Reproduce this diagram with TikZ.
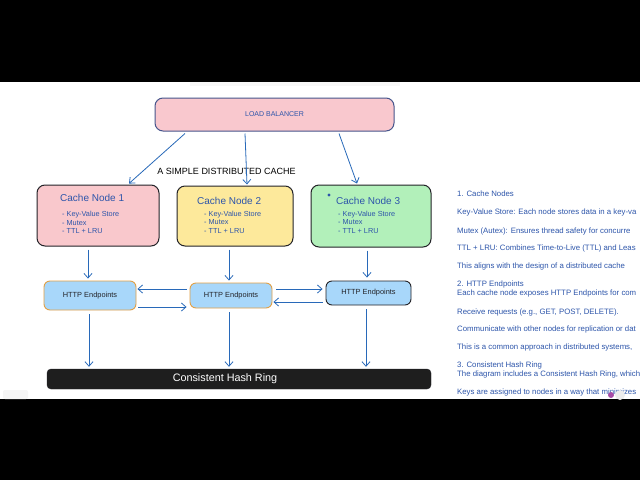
\documentclass[tikz,border=0pt]{standalone}
\usepackage{fontspec}
\setmainfont{Liberation Sans}
\usetikzlibrary{arrows.meta,calc}
\definecolor{arrowblue}{RGB}{40,105,185}
\definecolor{txtblue}{RGB}{45,85,170}
\definecolor{lbpink}{RGB}{249,200,206}
\definecolor{lbline}{RGB}{70,85,140}
\definecolor{cnpink}{RGB}{249,200,204}
\definecolor{cnyellow}{RGB}{253,233,155}
\definecolor{cngreen}{RGB}{178,240,186}
\definecolor{boxline}{RGB}{35,35,40}
\definecolor{httpfill}{RGB}{168,215,250}
\definecolor{httporange}{RGB}{225,160,70}
\definecolor{ringfill}{RGB}{30,30,30}
\begin{document}
\begin{tikzpicture}[x=1pt,y=-1pt,
  arr/.style={draw=arrowblue, line width=0.8pt, -{Straight Barb[length=4.5pt,width=8pt]}},
  bigbox/.style={draw=boxline, line width=1pt, rounded corners=8pt, inner sep=0pt},
  httpbox/.style={draw=httporange, line width=0.9pt, rounded corners=6pt, fill=httpfill, inner sep=0pt,
    font=\fontsize{7.4}{8}\selectfont, text=boxline},
  cntitle/.style={anchor=west, inner sep=0pt, text=txtblue, font=\fontsize{10}{12}\selectfont},
  cnitems/.style={anchor=west, inner sep=0pt, text=txtblue, align=left, font=\fontsize{7.3}{8.4}\selectfont},
  side/.style={anchor=west, inner sep=0pt, text=txtblue, font=\fontsize{7.8}{9}\selectfont}]
\useasboundingbox (0,0) rectangle (640,480);
\fill[white] (0,0) rectangle (640,480);
\fill[black] (0,0) rectangle (640,82);
\fill[black] (0,399) rectangle (640,480);
\fill[gray!6] (190,82) rectangle (400,86);
\fill[gray!8, rounded corners=2pt] (3,390) rectangle (28,399);

% load balancer
\node[bigbox, draw=lbline, fill=lbpink, minimum width=239pt, minimum height=33pt,
  text=txtblue, font=\fontsize{7}{8}\selectfont] (lb) at (274.5,114.5) {LOAD BALANCER};
\node[inner sep=0pt, font=\fontsize{9}{10}\selectfont, text=black] (title) at (226.5,171) {A SIMPLE DISTRIBUTED CACHE};

% cache nodes
\node[bigbox, fill=cnpink, minimum width=122pt, minimum height=61pt] (cn1) at (98,215.5) {};
\node[bigbox, fill=cnyellow, minimum width=116pt, minimum height=60pt] (cn2) at (235,216) {};
\node[bigbox, fill=cngreen, minimum width=120pt, minimum height=62pt] (cn3) at (371,216) {};
\node[cntitle] (cn1t) at (60,198) {Cache Node 1};
\node[cntitle] (cn2t) at (197,201) {Cache Node 2};
\node[cntitle] (cn3t) at (336,201) {Cache Node 3};
\node[circle, fill=txtblue, inner sep=0pt, minimum size=3.2pt] (dot) at (329,195) {};
\node[cnitems] (cn1i) at (62,222.5) {- Key-Value Store\\- Mutex\\- TTL + LRU};
\node[cnitems] (cn2i) at (204,222) {- Key-Value Store\\- Mutex\\- TTL + LRU};
\node[cnitems] (cn3i) at (338,222) {- Key-Value Store\\- Mutex\\- TTL + LRU};

% http endpoints
\node[httpbox, minimum width=92pt, minimum height=29pt] (h1) at (90,295.5) {HTTP Endpoints};
\node[httpbox, minimum width=82pt, minimum height=25pt] (h2) at (231,295.5) {HTTP Endpoints};
\node[httpbox, draw=boxline, minimum width=85pt, minimum height=24pt] (h3) at (368.5,293) {HTTP Endpoints};

% hash ring
\node[draw=boxline, fill=ringfill, rounded corners=4pt, inner sep=0pt, minimum width=384pt, minimum height=20pt] (ring) at (239,379) {};
\node[inner sep=0pt, text=white, font=\fontsize{10.8}{12}\selectfont] (ringt) at (225,379) {Consistent Hash Ring};

% arrows from load balancer
\draw[arr] ($(lb.south)+(-89.5,2)$) -- ($(cn1.north)+(31,-1)$);
\draw[arr] ($(lb.south)+(-29.5,2)$) -- ($(cn2.north)+(12,-1)$);
\draw[arr] ($(lb.south)+(64.5,2)$) -- ($(cn3.north)+(-14,-1)$);

% cache node to http
\draw[arr] ($(cn1.south)+(-10,3)$) -- ($(h1.north)+(-2,-2)$);
\draw[arr] ($(cn2.south)+(-6,3)$) -- ($(h2.north)+(-2,-2)$);
\draw[arr] ($(cn3.south)+(-4,3)$) -- ($(h3.north)+(-1.5,-3)$);

% http to ring
\draw[arr] ($(h1.south)+(-1,4)$) -- ($(ring.north)+(-150,-2)$);
\draw[arr] ($(h2.south)+(-2,4)$) -- ($(ring.north)+(-10,-2)$);
\draw[arr] ($(h3.south)+(-2.5,4)$) -- ($(ring.north)+(127,-2)$);

% between http endpoints
\draw[arr] ($(h2.west)+(-3,-6.5)$) -- ($(h1.east)+(1,-6.5)$);
\draw[arr] ($(h1.east)+(2,11.5)$) -- ($(h2.west)+(-3,11.5)$);
\draw[arr] ($(h2.east)+(4,-6.5)$) -- ($(h3.west)+(-3,-4)$);
\draw[arr] ($(h3.west)+(-3,9)$) -- ($(h2.east)+(1,6.5)$);

% side notes (as far as the reference shows them)
\node[side] (s1) at (457,194) {1. Cache Nodes};
\node[side] (s2) at (457,212) {Key-Value Store: Each node stores data in a key-va};
\node[side] (s3) at (457,231) {Mutex (Autex): Ensures thread safety for concurre};
\node[side] (s4) at (457,248) {TTL + LRU: Combines Time-to-Live (TTL) and Leas};
\node[side] (s5) at (457,266) {This aligns with the design of a distributed cache};
\node[side] (s6) at (457,284) {2. HTTP Endpoints};
\node[side] (s7) at (457,293) {Each cache node exposes HTTP Endpoints for com};
\node[side] (s8) at (457,312) {Receive requests (e.g., GET, POST, DELETE).};
\node[side] (s9) at (457,329) {Communicate with other nodes for replication or dat};
\node[side] (s10) at (457,347) {This is a common approach in distributed systems,};
\node[side] (s11) at (457,365) {3. Consistent Hash Ring};
\node[side] (s12) at (457,374) {The diagram includes a Consistent Hash Ring, which};
\node[side] (s13) at (457,392) {Keys are assigned to nodes in a way that minimizes};
\fill[white!85!gray] (620,395) circle (5pt);
\node[circle, fill=violet!70, inner sep=0pt, minimum size=6pt] (icon) at (611,395) {};
\end{tikzpicture}
\end{document}
